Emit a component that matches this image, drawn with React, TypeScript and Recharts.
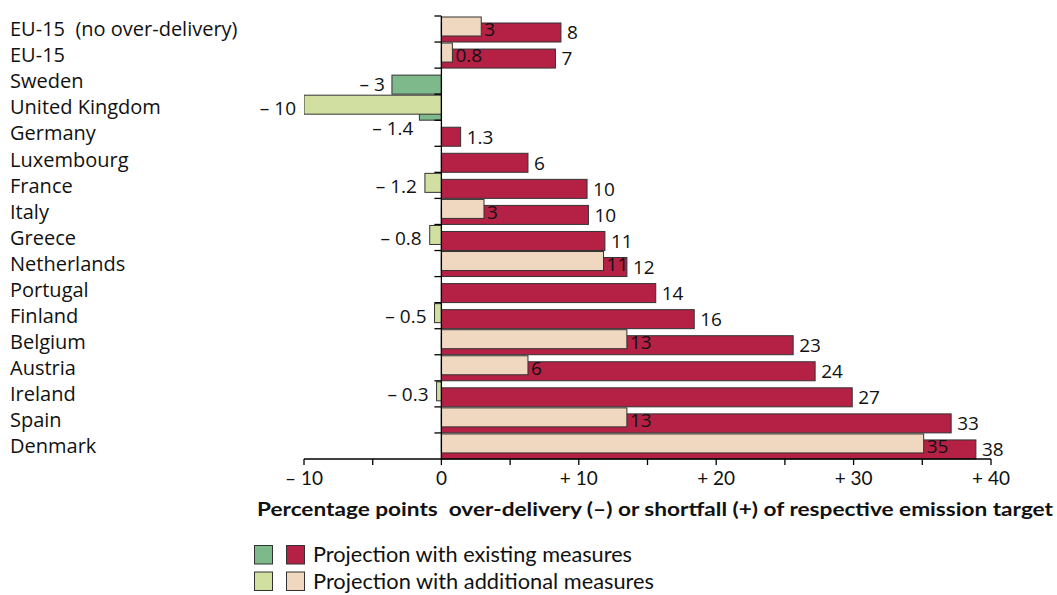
import React from "react";
import { BarChart, Bar, XAxis, YAxis, ReferenceLine, LabelList, Legend } from "recharts";

const categories = [
  "EU-15  (no over-delivery)", "EU-15", "Sweden", "United Kingdom", "Germany", "Luxembourg",
  "France", "Italy", "Greece", "Netherlands", "Portugal", "Finland", "Belgium", "Austria",
  "Ireland", "Spain", "Denmark",
];

// bar lengths as they are drawn in the figure
const existing = [8.7, 8.3, -3.6, -1.6, 1.4, 6.3, 10.6, 10.7, 11.9, 13.5, 15.6, 18.4, 25.6, 27.2, 29.9, 37.1, 38.9];
const additional = [2.9, 0.8, null, -10, null, null, -1.2, 3.1, -0.85, 11.8, null, -0.5, 13.5, 6.3, -0.35, 13.5, 35.1];

// numbers printed next to the bars
const existingLabels = ["8", "7", "– 3", "– 1.4", "1.3", "6", "10", "10", "11", "12", "14", "16", "23", "24", "27", "33", "38"];
const additionalLabels = ["3", "0.8", "", "– 10", "", "", "– 1.2", "3", "– 0.8", "11", "", "– 0.5", "13", "6", "– 0.3", "13", "35"];

const xTicks = [-10, -5, 0, 5, 10, 15, 20, 25, 30, 35, 40];
const legendNames = ["Projection with existing measures", "Projection with additional measures"];
const axisTitle = "Percentage points  over-delivery (–) or shortfall (+) of respective emission target";

const data = categories.map((name, i) => ({ name, existing: existing[i], additional: additional[i] }));

const FONT = "'Open Sans', Lato, sans-serif";
const TICK_FONT = "Lato, sans-serif";
const RED = "#B52145";
const PEACH = "#EFD8BF";
const DARK_GREEN = "#7DB98A";
const LIGHT_GREEN = "#D1E0A1";
const EDGE = "#333";
const TEXT = "#111";

const BAR = 19;
const GAP = -13;
const SHIFT = BAR + GAP; // additional bar sits above, drawn on top

const fmtTick = (v: number) => (v % 10 !== 0 ? "" : v > 0 ? `+ ${v}` : v < 0 ? `– ${-v}` : "0");

const makeShape = (key: "existing" | "additional", dy: number, pos: string, neg: string) => (p: any) => {
  const v = p.payload?.[key];
  if (v == null || !isFinite(p.width)) return <g />;
  const left = Math.min(p.x, p.x + p.width);
  return (
    <rect x={left} y={p.y + dy} width={Math.abs(p.width)} height={p.height}
      fill={v < 0 ? neg : pos} stroke={EDGE} strokeWidth={1} />
  );
};

const box = (p: any) => {
  const vb = p.viewBox && p.viewBox.width != null ? p.viewBox : p;
  const left = Math.min(vb.x, vb.x + vb.width);
  const right = Math.max(vb.x, vb.x + vb.width);
  return { left, right, y: vb.y, h: vb.height };
};

const labelStyle = { fontSize: 19, fontFamily: FONT, fill: TEXT, dy: "0.36em" };

const ExistingLabel = (p: any) => {
  const i = existing.indexOf(p.value);
  if (i < 0) return null;
  const v = existing[i];
  const b = box(p);
  const cy = b.y + b.h / 2 + SHIFT;
  const a = additional[i];
  if (v >= 0) return <text x={b.right + 6} y={cy} {...labelStyle}>{existingLabels[i]}</text>;
  if (a != null && a < v)
    return <text x={b.left - 6} y={b.y + b.h + SHIFT + 7.5} textAnchor="end" {...labelStyle}>{existingLabels[i]}</text>;
  return <text x={b.left - 7} y={cy} textAnchor="end" {...labelStyle}>{existingLabels[i]}</text>;
};

const AdditionalLabel = (p: any) => {
  const i = additional.indexOf(p.value);
  if (i < 0) return null;
  const v = additional[i] as number;
  const b = box(p);
  const cy = b.y + b.h / 2 - SHIFT + 3;
  if (v >= 0) return <text x={b.right + 3} y={cy} {...labelStyle}>{additionalLabels[i]}</text>;
  return <text x={b.left - 8} y={cy} textAnchor="end" {...labelStyle}>{additionalLabels[i]}</text>;
};

const CategoryTick = (p: any) => (
  <text x={10} y={p.y} dy="0.36em" fontSize={20} fontFamily={FONT} fill={TEXT} style={{ whiteSpace: "pre" }}>
    {p.payload.value}
  </text>
);

// zero line with the little ticks between the countries
const ZeroAxis = (p: any) => {
  const top = Math.min(p.y1, p.y2);
  const bottom = Math.max(p.y1, p.y2);
  const step = (bottom - top) / categories.length;
  return (
    <g>
      <line x1={p.x1} y1={top} x2={p.x2} y2={bottom} stroke="#000" strokeWidth={1.3} />
      {categories.map((c, i) => (
        <line key={c} x1={p.x1 - 7} x2={p.x1} y1={top + i * step} y2={top + i * step} stroke="#000" strokeWidth={1.3} />
      ))}
    </g>
  );
};

const AxisTitle = (p: any) => {
  const vb = p.viewBox || { x: 304, y: 459 };
  return (
    <text x={vb.x - 47} y={vb.y + 57} fontSize={19} fontWeight="bold" fontFamily={TICK_FONT} fill={TEXT}
      textLength={796} lengthAdjust="spacingAndGlyphs" style={{ whiteSpace: "pre" }}>{axisTitle}</text>
  );
};

const LegendBox = () => {
  const swatches = [[DARK_GREEN, RED], [LIGHT_GREEN, PEACH]];
  const widths = [319, 341];
  return (
    <svg width={430} height={56}>
      {legendNames.map((name, r) => (
        <g key={name} transform={`translate(0, ${r * 26.5})`}>
          <rect x={4.5} y={5.5} width={18} height={18.5} fill={swatches[r][0]} stroke={EDGE} strokeWidth={1} />
          <rect x={36.5} y={5.5} width={18} height={18.5} fill={swatches[r][1]} stroke={EDGE} strokeWidth={1} />
          <text x={63} y={22} fontSize={21} fontFamily={TICK_FONT} fill={TEXT} textLength={widths[r]}
            lengthAdjust="spacingAndGlyphs">{name}</text>
        </g>
      ))}
    </svg>
  );
};

export default function App() {
  return (
    <div style={{ position: "absolute", left: 0, top: 0, width: 1057, height: 595, background: "#fff" }}>
      <BarChart width={1057} height={595} data={data} layout="vertical"
        margin={{ top: 16, right: 66, bottom: 106, left: 0 }} barSize={BAR} barGap={GAP}>
        <XAxis type="number" domain={[-10, 40]} ticks={xTicks} tickFormatter={fmtTick} interval={0}
          axisLine={{ stroke: "#000", strokeWidth: 1.3 }} tickLine={{ stroke: "#000", strokeWidth: 1.3 }}
          tickSize={6} tickMargin={7} height={30} allowDataOverflow
          tick={{ fontSize: 19, fill: TEXT, fontFamily: TICK_FONT }} label={{ content: AxisTitle }} />
        <YAxis type="category" dataKey="name" width={304} axisLine={false} tickLine={false} interval={0}
          tick={CategoryTick} />
        <Bar dataKey="existing" isAnimationActive={false} shape={makeShape("existing", SHIFT, RED, DARK_GREEN)}>
          <LabelList dataKey="existing" content={ExistingLabel} />
        </Bar>
        <Bar dataKey="additional" isAnimationActive={false} shape={makeShape("additional", -SHIFT, PEACH, LIGHT_GREEN)}>
          <LabelList dataKey="additional" content={AdditionalLabel} />
        </Bar>
        <ReferenceLine x={0} stroke="#000" strokeWidth={1.3} shape={ZeroAxis} />
        <Legend content={LegendBox} layout="vertical" align="center" verticalAlign="middle"
          wrapperStyle={{ position: "absolute", left: 250, top: 540, width: 430, height: 56 }} />
      </BarChart>
    </div>
  );
}
